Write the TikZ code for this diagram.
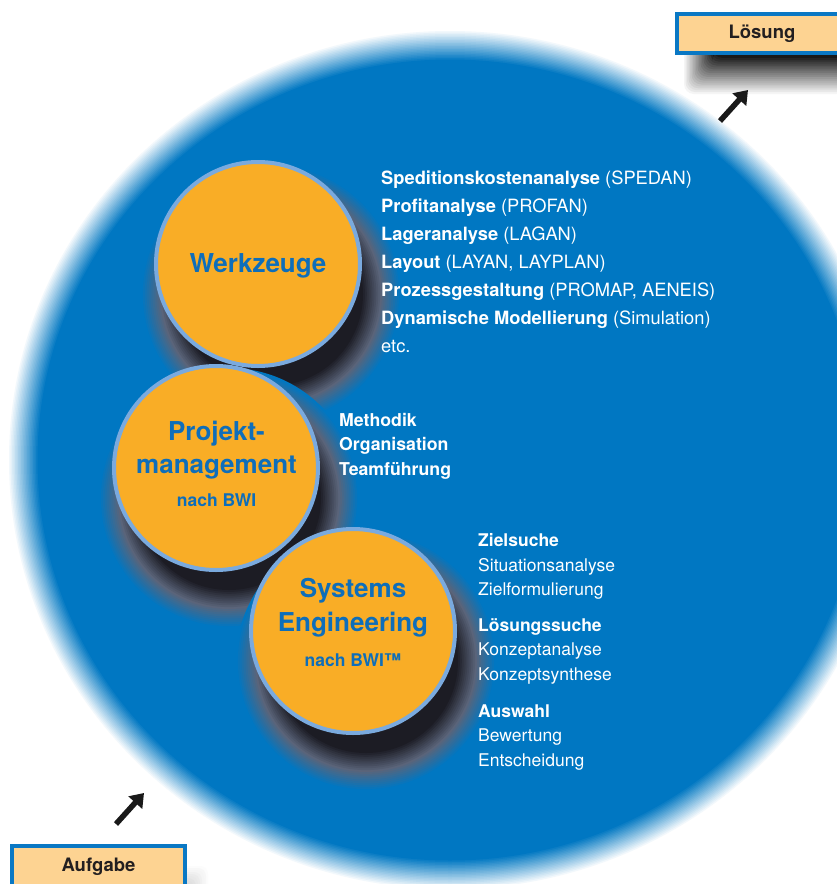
\documentclass[tikz,border=0pt]{standalone}
\usepackage{fontspec}
\setmainfont{TeX Gyre Heros}
\usetikzlibrary{arrows.meta}
\definecolor{bgblue}{RGB}{0,119,194}
\definecolor{orng}{RGB}{249,173,38}
\definecolor{ringblue}{RGB}{122,170,222}
\definecolor{titleblue}{RGB}{14,110,186}
\definecolor{peach}{RGB}{253,211,146}
\definecolor{boxblue}{RGB}{10,120,196}
\definecolor{darktext}{RGB}{35,31,32}
\definecolor{shd}{RGB}{28,28,36}
\definecolor{shdgray}{RGB}{90,100,122}
\begin{document}
\begin{tikzpicture}[x=1pt,y=-1pt,
  disc/.style={circle, fill=orng, draw=ringblue, line width=4pt, minimum size=204pt, inner sep=0pt},
  ctitle/.style={font=\bfseries\fontsize{26}{30}\selectfont, text=titleblue, anchor=base, inner sep=0pt},
  csub/.style={font=\bfseries\fontsize{17.5}{20}\selectfont, text=titleblue, anchor=base, inner sep=0pt},
  wline/.style={font=\fontsize{18.3}{22}\selectfont, text=white, anchor=base west, inner sep=0pt},
  mline/.style={font=\bfseries\fontsize{17.7}{22}\selectfont, text=white, anchor=base west, inner sep=0pt},
  zline/.style={font=\fontsize{17.5}{22}\selectfont, text=white, anchor=base west, inner sep=0pt},
  zhead/.style={zline, font=\bfseries\fontsize{17.5}{22}\selectfont},
  tagbox/.style={draw=boxblue, fill=peach, line width=4pt, inner sep=0pt, text=darktext, font=\bfseries\fontsize{18.5}{22}\selectfont},
  bigarrow/.style={line width=5.5pt, draw=black!90, -{Triangle[length=13pt,width=18pt]}}
]
\useasboundingbox (0,0) rectangle (836,884);
\fill[white] (0,0) rectangle (836,884);
% big blue disc with soft edge (stacked rings, outer to inner)
\foreach \k [evaluate=\k as \p using {int(5*(\k+1))}] in {0,...,19}
  \fill[bgblue!\p!white] (450,460) ellipse [x radius={441-1.5*\k}, y radius={429-1.5*\k}];

% blurred shadows of the orange discs (stacked rings, outer to inner)
\foreach \cx/\cy in {271/294, 229/498, 366/661}{
  \foreach \k [evaluate=\k as \pa using {int(10*\k)}, evaluate=\k as \pb using {int(10*(\k-10))}] in {0,...,20}{
    \ifnum\k>10
      \fill[shd!\pb!shdgray] (\cx,\cy) circle ({130-1.9*\k});
    \else
      \fill[shdgray!\pa!bgblue] (\cx,\cy) circle ({130-1.9*\k});
    \fi
  }
}

% orange discs
\node[disc] (werk) at (258,264) {};
\node[disc] (proj) at (216,468) {};
\node[disc] (syst) at (353,631) {};

\node[ctitle] (werkT) at (258,272.7) {Werkzeuge};
\node[ctitle] (projT1) at (216.5,440) {Projekt-};
\node[ctitle] (projT2) at (216.5,473.3) {management};
\node[csub] (projT3) at (216.5,506.7) {nach BWI};
\node[ctitle] (systT1) at (353,597.3) {Systems};
\node[ctitle] (systT2) at (353,631.7) {Engineering};
\node[csub] (systT3) at (353,666.7) {nach BWI™};

% tool list
\node[wline] (w1) at (381,184) {\textbf{Speditionskostenanalyse} (SPEDAN)};
\node[wline] (w2) at (381,212.1) {\textbf{Profitanalyse} (PROFAN)};
\node[wline] (w3) at (381,240.2) {\textbf{Lageranalyse} (LAGAN)};
\node[wline] (w4) at (381,268.3) {\textbf{Layout} (LAYAN, LAYPLAN)};
\node[wline] (w5) at (381,296.5) {\textbf{Prozessgestaltung} (PROMAP, AENEIS)};
\node[wline] (w6) at (381,324.6) {\textbf{Dynamische Modellierung} (Simulation)};
\node[wline] (w7) at (381,352.7) {etc.};

% project management list
\node[mline] (m1) at (339,426.7) {Methodik};
\node[mline] (m2) at (339,450.7) {Organisation};
\node[mline] (m3) at (339,475) {Teamführung};

% systems engineering list
\node[zhead] (z1) at (478,546.7) {Zielsuche};
\node[zline] (z2) at (478,571) {Situationsanalyse};
\node[zline] (z3) at (478,595.3) {Zielformulierung};
\node[zhead] (z4) at (478,631) {Lösungssuche};
\node[zline] (z5) at (478,655.5) {Konzeptanalyse};
\node[zline] (z6) at (478,680) {Konzeptsynthese};
\node[zhead] (z7) at (478,717.3) {Auswahl};
\node[zline] (z8) at (478,741.7) {Bewertung};
\node[zline] (z9) at (478,766) {Entscheidung};

% shadow of the "Lösung" box (stacked, light to dark)
\foreach \k [evaluate=\k as \p using {int(4.5*(\k+1))}] in {0,...,19}
  \fill[black!\p!white, rounded corners=10pt] ({684+1.5*\k},{22+1.5*\k}) rectangle (930,{94-1.9*\k});
% shadow of the "Aufgabe" box
\foreach \k [evaluate=\k as \p using {int(1.6*(\k+1))}] in {0,...,9}
  \fill[black!\p!white, rounded corners=8pt] ({22+2*\k},{866+2*\k}) rectangle ({208-2*\k},930);

% boxes
\node[tagbox, minimum width=170pt, minimum height=39pt] (loes) at (762,33.5) {Lösung};
\node[tagbox, minimum width=173pt, minimum height=42pt] (aufg) at (98.5,867) {Aufgabe};

% arrows
\coordinate (a1s) at (720,121);
\coordinate (a1e) at (748,90);
\draw[bigarrow] (a1s) -- (a1e);
\coordinate (a2s) at (116,824);
\coordinate (a2e) at (144,793);
\draw[bigarrow] (a2s) -- (a2e);
\end{tikzpicture}
\end{document}
